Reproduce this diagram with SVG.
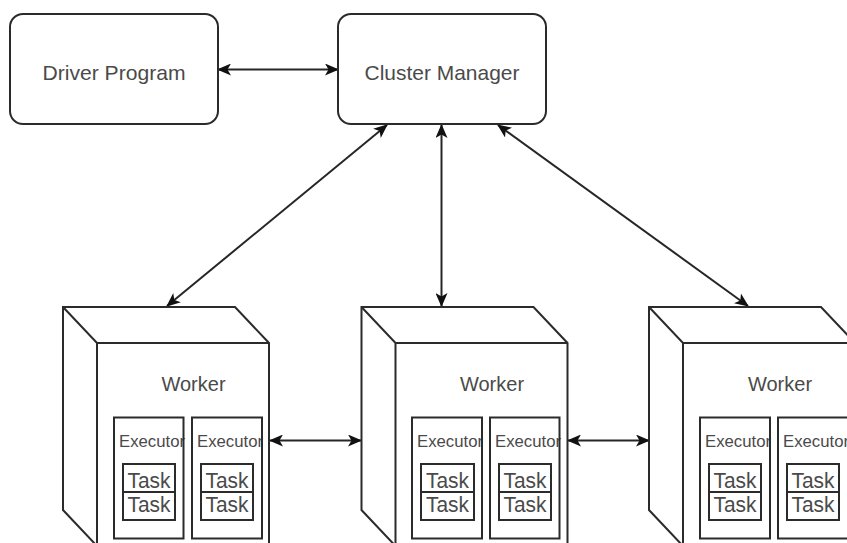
<svg xmlns="http://www.w3.org/2000/svg" width="847" height="543" viewBox="0 0 847 543">
  <style>
    .box { fill: #ffffff; stroke: #2b2b2b; stroke-width: 2; }
    .edge { fill: none; stroke: #2b2b2b; stroke-width: 2; }
    .conn { fill: none; stroke: #262626; stroke-width: 2; marker-start: url(#arr); marker-end: url(#arr); }
    .lbl { font-family: "Liberation Sans", Arial, sans-serif; fill: #4a4a4a; text-anchor: middle; }
    .big { font-size: 21px; }
    .wk { font-size: 20px; }
    .ex { font-family: "Liberation Sans", Arial, sans-serif; fill: #4a4a4a; font-size: 16px; }
    .tk { font-size: 22px; }
  </style>
  <defs>
    <marker id="arr" viewBox="0 0 14 12" refX="13" refY="6" markerWidth="14" markerHeight="12" markerUnits="userSpaceOnUse" orient="auto-start-reverse">
      <path d="M0,0 L14,6 L0,12 L3.5,6 Z" fill="#111"/>
    </marker>
    <g id="cubeShape">
      <path class="box" d="M0,0 L172,0 L206,36 L206,239 L34,239 L0,203 Z"/>
      <path class="edge" d="M0,0 L34,36 L206,36 M34,36 L34,239"/>
    </g>
  </defs>

  <rect width="847" height="543" fill="#ffffff"/>

  <g id="connectors">
    <line class="conn" x1="218" y1="69.5" x2="338" y2="69.5"/>
    <line class="conn" x1="387" y1="125" x2="167" y2="306"/>
    <line class="conn" x1="441.5" y1="125" x2="441.5" y2="306"/>
    <line class="conn" x1="498" y1="125" x2="748" y2="306"/>
    <line class="conn" x1="270" y1="440.5" x2="361" y2="440.5"/>
    <line class="conn" x1="568" y1="440.5" x2="649" y2="440.5"/>
  </g>

  <g id="driver-program">
    <rect class="box" x="10" y="14" width="208" height="110" rx="13"/>
    <text class="lbl big" x="114" y="80" textLength="143" lengthAdjust="spacingAndGlyphs">Driver Program</text>
  </g>

  <g id="cluster-manager">
    <rect class="box" x="338" y="14" width="208" height="110" rx="13"/>
    <text class="lbl big" x="442" y="80" textLength="155" lengthAdjust="spacingAndGlyphs">Cluster Manager</text>
  </g>

  <g id="worker-1">
    <use href="#cubeShape" x="63" y="307"/>
    <text class="lbl wk" x="193.5" y="391">Worker</text>
    <g id="worker-1-executor-1">
      <text class="ex" x="119" y="447" textLength="66" lengthAdjust="spacingAndGlyphs">Executor</text>
      <rect class="edge" x="114" y="417.5" width="69.5" height="121"/>
      <text class="lbl tk" x="149" y="487.5" textLength="43" lengthAdjust="spacingAndGlyphs">Task</text>
      <text class="lbl tk" x="149" y="512" textLength="43" lengthAdjust="spacingAndGlyphs">Task</text>
      <rect class="edge" x="123" y="464" width="52" height="56"/>
      <line class="edge" x1="123" y1="492" x2="175" y2="492"/>
    </g>
    <g id="worker-1-executor-2">
      <text class="ex" x="197" y="447" textLength="66" lengthAdjust="spacingAndGlyphs">Executor</text>
      <rect class="edge" x="192" y="417.5" width="70" height="121"/>
      <text class="lbl tk" x="227" y="487.5" textLength="43" lengthAdjust="spacingAndGlyphs">Task</text>
      <text class="lbl tk" x="227" y="512" textLength="43" lengthAdjust="spacingAndGlyphs">Task</text>
      <rect class="edge" x="201" y="464" width="52" height="56"/>
      <line class="edge" x1="201" y1="492" x2="253" y2="492"/>
    </g>
  </g>

  <g id="worker-2">
    <use href="#cubeShape" x="361.5" y="307"/>
    <text class="lbl wk" x="492" y="391">Worker</text>
    <g id="worker-2-executor-1">
      <text class="ex" x="417" y="447" textLength="66" lengthAdjust="spacingAndGlyphs">Executor</text>
      <rect class="edge" x="412" y="417.5" width="70" height="121"/>
      <text class="lbl tk" x="447.5" y="487.5" textLength="43" lengthAdjust="spacingAndGlyphs">Task</text>
      <text class="lbl tk" x="447.5" y="512" textLength="43" lengthAdjust="spacingAndGlyphs">Task</text>
      <rect class="edge" x="421" y="464" width="53" height="56"/>
      <line class="edge" x1="421" y1="492" x2="474" y2="492"/>
    </g>
    <g id="worker-2-executor-2">
      <text class="ex" x="495" y="447" textLength="66" lengthAdjust="spacingAndGlyphs">Executor</text>
      <rect class="edge" x="490" y="417.5" width="69.5" height="121"/>
      <text class="lbl tk" x="525" y="487.5" textLength="43" lengthAdjust="spacingAndGlyphs">Task</text>
      <text class="lbl tk" x="525" y="512" textLength="43" lengthAdjust="spacingAndGlyphs">Task</text>
      <rect class="edge" x="499" y="464" width="52" height="56"/>
      <line class="edge" x1="499" y1="492" x2="551" y2="492"/>
    </g>
  </g>

  <g id="worker-3">
    <use href="#cubeShape" x="649" y="307"/>
    <text class="lbl wk" x="780" y="391">Worker</text>
    <g id="worker-3-executor-1">
      <text class="ex" x="705" y="447" textLength="66" lengthAdjust="spacingAndGlyphs">Executor</text>
      <rect class="edge" x="700" y="417.5" width="70" height="121"/>
      <text class="lbl tk" x="735" y="487.5" textLength="43" lengthAdjust="spacingAndGlyphs">Task</text>
      <text class="lbl tk" x="735" y="512" textLength="43" lengthAdjust="spacingAndGlyphs">Task</text>
      <rect class="edge" x="709" y="464" width="52" height="56"/>
      <line class="edge" x1="709" y1="492" x2="761" y2="492"/>
    </g>
    <g id="worker-3-executor-2">
      <text class="ex" x="783" y="447" textLength="66" lengthAdjust="spacingAndGlyphs">Executor</text>
      <rect class="edge" x="778" y="417.5" width="70" height="121"/>
      <text class="lbl tk" x="813" y="487.5" textLength="43" lengthAdjust="spacingAndGlyphs">Task</text>
      <text class="lbl tk" x="813" y="512" textLength="43" lengthAdjust="spacingAndGlyphs">Task</text>
      <rect class="edge" x="787" y="464" width="52" height="56"/>
      <line class="edge" x1="787" y1="492" x2="839" y2="492"/>
    </g>
  </g>
</svg>
